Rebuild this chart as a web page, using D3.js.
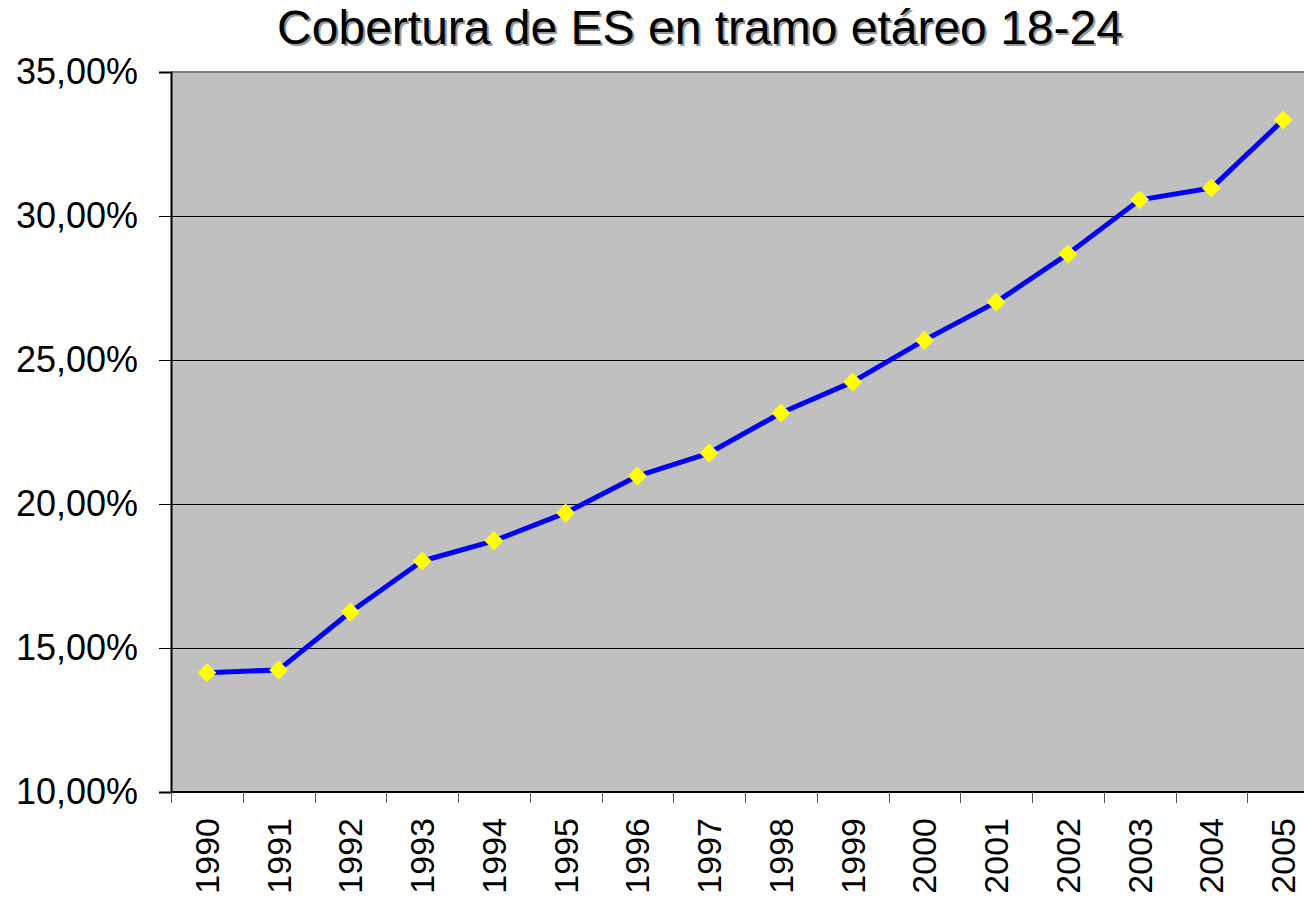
<!DOCTYPE html>
<html>
<head>
<meta charset="utf-8">
<script src="https://cdn.jsdelivr.net/npm/d3@7"></script>
<style>
  body { margin: 0; background: #fff; overflow: hidden; }
  text { font-family: "Liberation Sans", Arial, sans-serif; }
</style>
</head>
<body>
<svg id="chart"></svg>
<script>
// chart data
const years = ["1990", "1991", "1992", "1993", "1994", "1995", "1996", "1997",
               "1998", "1999", "2000", "2001", "2002", "2003", "2004", "2005"];
const coverage = [14.14, 14.24, 16.25, 18.02, 18.72, 19.69, 20.97, 21.77,
                  23.16, 24.24, 25.69, 27.01, 28.68, 30.56, 30.97, 33.33];
const yTicks = [10, 15, 20, 25, 30, 35];
const title = "Cobertura de ES en tramo etáreo 18-24";

const width = 1304;
const height = 901;
const margin = {left: 171, right: -15, top: 72, bottom: 109};

const svg = d3.select('#chart')
  .attr('width', width)
  .attr('height', height);

const x = d3.scaleBand()
  .domain(years)
  .range([margin.left, width - margin.right]);

const y = d3.scaleLinear()
  .domain([10, 35])
  .range([height - margin.bottom, margin.top]);

// plot background
svg.append('rect')
  .attr('x', margin.left)
  .attr('y', margin.top)
  .attr('width', width - margin.right - margin.left)
  .attr('height', height - margin.bottom - margin.top)
  .attr('fill', '#c0c0c0');

// gridlines
svg.append('g')
  .selectAll('line')
  .data(yTicks.slice(1, -1))
  .join('line')
  .attr('x1', margin.left)
  .attr('x2', width)
  .attr('y1', d => y(d) + 0.5)
  .attr('y2', d => y(d) + 0.5)
  .attr('stroke', '#000')
  .attr('stroke-width', 1);

// top border
svg.append('line')
  .attr('x1', margin.left)
  .attr('x2', width)
  .attr('y1', y(35))
  .attr('y2', y(35))
  .attr('stroke', '#808080')
  .attr('stroke-width', 2);

// y axis
const yAxis = svg.append('g')
  .attr('transform', `translate(${margin.left},0)`)
  .call(d3.axisLeft(y)
    .tickValues(yTicks)
    .tickSize(12)
    .tickPadding(21)
    .tickFormat(d => d3.format('.2f')(d).replace('.', ',') + '%'));
yAxis.select('.domain').attr('stroke', '#000').attr('stroke-width', 2);
yAxis.selectAll('.tick line').attr('stroke', '#000');
yAxis.selectAll('.tick text')
  .attr('font-family', '"Liberation Sans", Arial, sans-serif')
  .attr('font-size', 36)
  .attr('fill', '#000');

// x axis (ticks between categories)
const xAxisG = svg.append('g')
  .attr('transform', `translate(0,${height - margin.bottom})`);
xAxisG.append('line')
  .attr('x1', margin.left)
  .attr('x2', width)
  .attr('stroke', '#000')
  .attr('stroke-width', 2);
xAxisG.selectAll('line.tk')
  .data(years)
  .join('line')
  .attr('class', 'tk')
  .attr('x1', d => Math.round(x(d)) + 0.5)
  .attr('x2', d => Math.round(x(d)) + 0.5)
  .attr('y1', 0)
  .attr('y2', 11)
  .attr('stroke', '#555');
xAxisG.selectAll('text')
  .data(years)
  .join('text')
  .attr('transform', d => `translate(${x(d) + x.bandwidth() / 2 + 12},26) rotate(-90)`)
  .attr('text-anchor', 'end')
  .attr('font-size', 34)
  .attr('fill', '#000')
  .text(d => d);

// line
const pts = years.map((yr, i) => ({year: yr, value: coverage[i]}));
const line = d3.line()
  .x(d => x(d.year) + x.bandwidth() / 2)
  .y(d => y(d.value));

svg.append('path')
  .datum(pts)
  .attr('fill', 'none')
  .attr('stroke', '#0000ff')
  .attr('stroke-width', 5)
  .attr('stroke-linejoin', 'round')
  .attr('d', line);

// diamond markers
svg.append('g')
  .selectAll('path')
  .data(pts)
  .join('path')
  .attr('transform', d => `translate(${x(d.year) + x.bandwidth() / 2},${y(d.value)})`)
  .attr('d', 'M0,-9.5L9.5,0L0,9.5L-9.5,0Z')
  .attr('fill', '#ffff00');

// title with shadow
svg.append('text')
  .attr('x', 700 + 2)
  .attr('y', 44 + 2)
  .attr('text-anchor', 'middle')
  .attr('font-size', 48)
  .attr('fill', '#999')
  .text(title);
svg.append('text')
  .attr('x', 700)
  .attr('y', 44)
  .attr('text-anchor', 'middle')
  .attr('font-size', 48)
  .attr('fill', '#000')
  .text(title);
</script>
</body>
</html>
